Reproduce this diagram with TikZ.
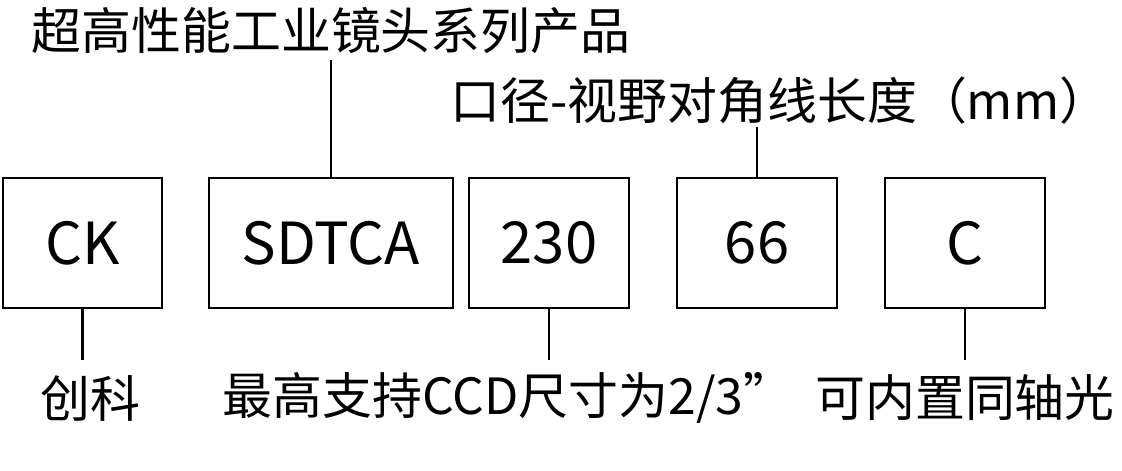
\documentclass[tikz,border=0pt]{standalone}
\usepackage{fontspec}
\setmainfont{Noto Sans CJK SC}
\usepackage{tikz}
\tikzset{
  codebox/.style={draw,line width=1.2pt,minimum height=2.6cm,inner sep=0pt,font=\fontsize{33}{38}\selectfont},
  note/.style={inner sep=0pt,font=\fontsize{28.4}{34}\selectfont},
  lead/.style={line width=1.2pt}
}
\begin{document}
\begin{tikzpicture}[x=0.02cm,y=-0.02cm]
        \useasboundingbox (0,0) rectangle (1122,470);
        \node[codebox,minimum width=3.18cm] (ck) at (82.5,243) {CK};
        \node[codebox,minimum width=4.88cm] (sdtca) at (331,243) {SDTCA};
        \node[codebox,minimum width=3.2cm] (size) at (549,243) {230};
        \node[codebox,minimum width=3.2cm] (fov) at (757,243) {66};
        \node[codebox,minimum width=3.2cm] (coax) at (965,243) {C};
        \node[note] (series) at (331,31) {超高性能工业镜头系列产品};
        \node[note] (diag) at (780,101) {口径-视野对角线长度（mm）};
        \node[note] (brand) at (90,398) {创科};
        \node[note] (ccd) at (508,398) {最高支持CCD尺寸为2/3\symbol{34}};
        \node[note] (light) at (965,398) {可内置同轴光};
        \coordinate (s1) at (331,60);
        \coordinate (d1) at (757,127);
        \coordinate (b1) at (82.5,360);
        \coordinate (c1) at (549,360);
        \coordinate (l1) at (965,360);
        \draw[lead] (sdtca.north) -- (s1);
        \draw[lead] (fov.north) -- (d1);
        \draw[lead] (ck.south) -- (b1);
        \draw[lead] (size.south) -- (c1);
        \draw[lead] (coax.south) -- (l1);
    \end{tikzpicture}
\end{document}
